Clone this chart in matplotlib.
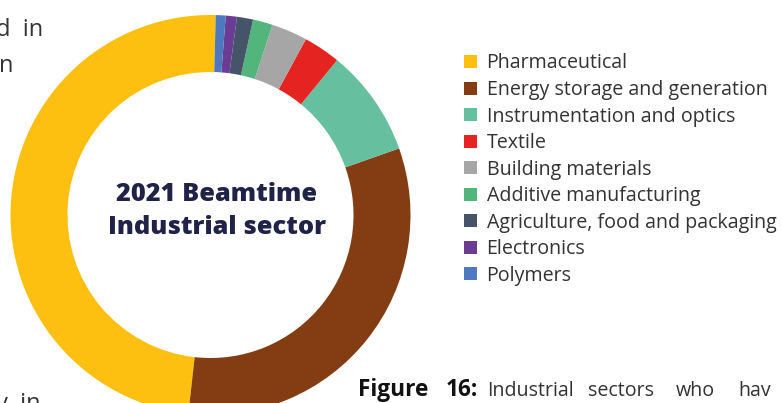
import matplotlib.pyplot as plt

# industrial sectors, 2021 beamtime (share in %, read from the donut)
sectors = [
    "Pharmaceutical",
    "Energy storage and generation",
    "Instrumentation and optics",
    "Textile",
    "Building materials",
    "Additive manufacturing",
    "Agriculture, food and packaging",
    "Electronics",
    "Polymers",
]
share = [48.7, 32.2, 8.7, 3.0, 2.9, 1.6, 1.3, 0.9, 0.8]
colors = [
    "#fdc010",
    "#843c12",
    "#66bf9f",
    "#e52421",
    "#a6a6a6",
    "#52b57b",
    "#46546a",
    "#6a3c93",
    "#4e78bf",
]

W, H = 782, 403
fig = plt.figure(figsize=(W / 100, H / 100), dpi=100)

# donut: centre (210.5, 215) px from top-left, outer radius 200 px
cx, cy, r = 210.5, 215, 200
ax = fig.add_axes([(cx - r) / W, (H - cy - r) / H, 2 * r / W, 2 * r / H])
wedges, _ = ax.pie(
    share,
    colors=colors,
    startangle=88.5,
    counterclock=True,
    radius=1,
    wedgeprops=dict(width=0.285, linewidth=0),
)
ax.set_xlim(-1, 1)
ax.set_ylim(-1, 1)
ax.set_aspect("equal")
ax.axis("off")
ax.text(
    0.03, 0.02, "2021 Beamtime\nIndustrial sector",
    ha="center", va="center", fontsize=18.3, fontweight="heavy",
    family="Open Sans", color="#1f2348", linespacing=1.4,
)

fig.legend(
    wedges, sectors,
    loc="upper left", bbox_to_anchor=(464 / W, 1 - 53.5 / H),
    frameon=False, prop=dict(family="Open Sans", size=14.1),
    handlelength=0.64, handleheight=0.64, handletextpad=0.51,
    labelspacing=0.333, borderpad=0, borderaxespad=0,
    labelcolor="#333333",
)

# bits of the surrounding page text
body = dict(family="Open Sans", fontsize=17, color="#333333")
fig.text(-4 / W, 1 - 36 / H, "d  in", va="baseline", **body)
fig.text(-1 / W, 1 - 72 / H, "n", va="baseline", **body)
fig.text(-4 / W, 1 - 410 / H, "y  in", va="baseline", **body)

cap = dict(family="Open Sans", fontsize=14.1, va="baseline")
fig.text(358 / W, 1 - 396 / H, "Figure", fontweight="bold", color="#111111",
         **{**cap, "fontsize": 16.3})
fig.text(446 / W, 1 - 396 / H, "16:", fontweight="bold", color="#111111",
         **{**cap, "fontsize": 16.3})
for word, x in [("Industrial", 487), ("sectors", 588), ("who", 676), ("hav", 738)]:
    fig.text(x / W, 1 - 396 / H, word, color="#333333", **cap)

fig.savefig("out.png", dpi=100)
